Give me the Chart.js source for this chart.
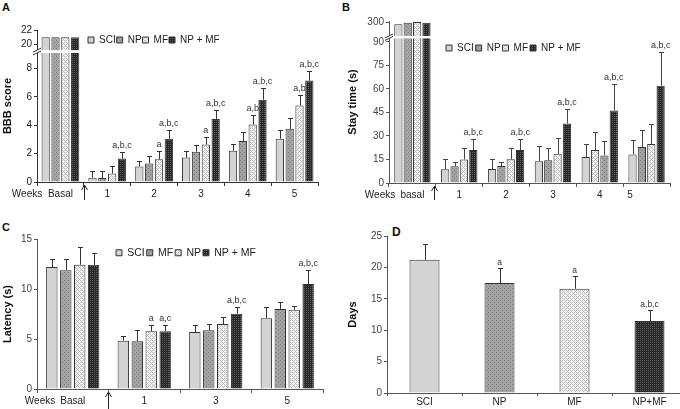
<!DOCTYPE html>
<html><head><meta charset="utf-8">
<script src="https://cdn.jsdelivr.net/npm/chart.js@4.4.0/dist/chart.umd.min.js"></script>
<style>
html,body{margin:0;padding:0;background:#fff;overflow:hidden;width:680px;height:409px;position:relative;}
canvas{position:absolute;}
.lbl{position:absolute;font:bold 11px "Liberation Sans",Arial,Helvetica,sans-serif;color:#111;line-height:11px;}
</style></head><body>
<div class="lbl" style="left:2px;top:2px">A</div>
<div class="lbl" style="left:342px;top:2px">B</div>
<div class="lbl" style="left:2px;top:222px">C</div>
<div class="lbl" style="left:392px;top:227px;font-size:12px">D</div>
<canvas id="cA" width="340" height="200" style="left:0;top:0"></canvas>
<canvas id="cB" width="340" height="200" style="left:340px;top:0"></canvas>
<canvas id="cC" width="340" height="209" style="left:0;top:200px"></canvas>
<canvas id="cD" width="350" height="209" style="left:340px;top:200px"></canvas>
<script>
// ---------- Panel A: BBB score ----------
const aCategories = ['Basal', '1', '2', '3', '4', '5'];
const aSCI      = [21, 0.30, 1.10, 1.72, 2.20, 3.05];
const aSCIErr   = [0, 0.50, 0.40, 0.50, 0.45, 0.60];
const aNP       = [21, 0.28, 1.30, 2.14, 2.90, 3.75];
const aNPErr    = [0, 0.52, 0.50, 0.46, 0.60, 0.75];
const aMF       = [21, 0.60, 1.60, 2.65, 4.05, 5.40];
const aMFErr    = [0, 0.55, 0.60, 0.55, 0.70, 0.75];
const aNPMF     = [21, 1.65, 3.05, 4.45, 5.80, 7.15];
const aNPMFErr  = [0, 0.45, 0.65, 0.65, 0.85, 0.65];
const aMFMarks   = ['', '', 'a', 'a', 'a,b', 'a,b'];
const aNPMFMarks = ['', 'a,b,c', 'a,b,c', 'a,b,c', 'a,b,c', 'a,b,c'];
const aTickLabels = ['0', '2', '4', '6', '8', '20', '22'];
const aTickValues = [0, 2, 4, 6, 8, 20, 22];

// ---------- Panel B: Stay time ----------
const bCategories = ['basal', '1', '2', '3', '4', '5            '];
const bSCI      = [295, 8.8, 9.0, 13.9, 16.5, 18.2];
const bSCIErr   = [0, 6.2, 6.2, 9.6, 8.3, 9.2];
const bNP       = [300, 10.7, 10.8, 14.5, 21.0, 22.9];
const bNPErr    = [0, 2.6, 2.5, 7.5, 11.3, 10.9];
const bMF       = [302, 15.0, 15.2, 18.6, 17.6, 24.8];
const bMFErr    = [0, 7.0, 6.8, 9.9, 9.1, 12.6];
const bNPMF     = [300, 21.0, 21.0, 38.0, 46.2, 62.0];
const bNPMFErr  = [0, 6.8, 7.0, 9.0, 17.1, 21.3];
const bNPMFMarks = ['', 'a,b,c', 'a,b,c', 'a,b,c', 'a,b,c', 'a,b,c'];
const bTickLabels = ['0', '15', '30', '45', '60', '75', '90', '300'];
const bTickValues = [0, 15, 30, 45, 60, 75, 90, 300];

// ---------- Panel C: Latency ----------
const cCategories = ['Basal', '1', '3', '5'];
const cSCI      = [12.20, 4.83, 5.70, 7.07];
const cSCIErr   = [0.83, 0.44, 0.67, 1.13];
const cMF       = [11.87, 4.77, 5.87, 8.00];
const cMFErr    = [1.16, 1.16, 0.66, 0.67];
const cNP       = [12.43, 5.77, 6.50, 7.93];
const cNPErr    = [1.77, 0.66, 0.70, 0.40];
const cNPMF     = [12.43, 5.77, 7.53, 10.50];
const cNPMFErr  = [1.17, 0.60, 0.67, 1.43];
const cNPMarks   = ['', 'a', '', ''];
const cNPMFMarks = ['', 'a,c', 'a,b,c', 'a,b,c'];
const cTickValues = [0, 5, 10, 15];

// ---------- Panel D: Days ----------
const dCategories = ['SCI', 'NP', 'MF', 'NP+MF'];
const dDays      = [21.2, 17.5, 16.6, 11.46];
const dDaysErr   = [2.57, 2.45, 1.97, 1.80];
const dMarks     = ['', 'a', 'a', 'a,b,c'];
const dTickValues = [0, 5, 10, 15, 20, 25];

const FONT = '"Liberation Sans", Arial, Helvetica, sans-serif';
Chart.defaults.font.family = FONT;
Chart.defaults.font.size = 10;
Chart.defaults.color = '#333';
Chart.defaults.animation = false;

// broken-axis transforms
const tA = v => v >= 15 ? 9.7 + (v - 20) * 0.5 : v;
const tB = v => v >= 200 ? 102.2 + (v - 300) * 0.2 : v;
const ident = v => v;

// fill patterns
function pat(bg, fg, pts) {
  const c = document.createElement('canvas'); c.width = 4; c.height = 4;
  const g = c.getContext('2d'); g.fillStyle = bg; g.fillRect(0, 0, 4, 4);
  g.fillStyle = fg; pts.forEach(p => g.fillRect(p[0], p[1], 1, 1));
  return g.createPattern(c, 'repeat');
}
const fillSCI = '#d3d3d3';
const fillNP = pat('#a2a2a2', '#7c7c7c', [[0,0],[2,2]]);
const fillMF = pat('#f4f4f4', '#bdbdbd', [[0,0],[2,0],[1,1],[3,3],[0,2],[2,2]]);
const fillNPMF = pat('#282828', '#5c5c5c', [[0,0],[2,2],[2,0],[0,2]]);

function ds(label, raw, err, marks, t, fill) {
  return {
    label, data: raw.map(t),
    errTop: raw.map((v, i) => err[i] ? t(v + err[i]) : null),
    marks: marks || null,
    backgroundColor: fill, borderColor: '#333', borderWidth: 1
  };
}

// ---------- plugins ----------
const legendInside = {
  id: 'legendInside',
  afterInit(chart) {
    const lg = chart.legend; if (!lg) return;
    const f = lg.fit;
    lg.fit = function () { f.call(this); this._rw = this.width; this._rh = this.height; this.height = 0; };
  },
  afterLayout(chart, args, o) {
    const lg = chart.legend; if (!lg) return;
    lg.left = o.x; lg.top = o.y; lg.width = lg._rw; lg.height = lg._rh;
    lg.right = o.x + lg._rw; lg.bottom = o.y + lg._rh;
  }
};
const breakPlugin = {
  id: 'axisBreak',
  afterDatasetsDraw(chart, args, o) {
    const {ctx, chartArea: ca} = chart; const y = chart.scales.y;
    const y1 = y.getPixelForValue(o.hi), y2 = y.getPixelForValue(o.lo);
    ctx.save(); ctx.fillStyle = '#fff';
    ctx.fillRect(ca.left - 6, y1, ca.right - ca.left + 6, y2 - y1);
    ctx.strokeStyle = '#333'; ctx.lineWidth = 1; ctx.beginPath();
    [y1, y2].forEach(yy => { ctx.moveTo(ca.left - 4, yy + 2); ctx.lineTo(ca.left + 4, yy - 2); });
    ctx.stroke(); ctx.restore();
  }
};
const errPlugin = {
  id: 'errbars',
  afterDatasetsDraw(chart, args, o) {
    const {ctx} = chart; const y = chart.scales.y;
    ctx.save();
    chart.data.datasets.forEach((d, di) => {
      const meta = chart.getDatasetMeta(di);
      meta.data.forEach((bar, i) => {
        let top = bar.y;
        if (d.errTop && d.errTop[i] != null) {
          const yt = Math.round(y.getPixelForValue(d.errTop[i])) + 0.5;
          const x = Math.round(bar.x) + 0.5;
          ctx.strokeStyle = o.color; ctx.lineWidth = 1;
          ctx.beginPath(); ctx.moveTo(x, bar.y); ctx.lineTo(x, yt);
          ctx.moveTo(x - o.cap, yt); ctx.lineTo(x + o.cap, yt); ctx.stroke();
          top = yt;
        }
        const m = d.marks && d.marks[i];
        if (m) {
          ctx.fillStyle = '#333'; ctx.font = o.fs + 'px ' + FONT;
          ctx.textAlign = 'center'; ctx.textBaseline = 'bottom';
          ctx.fillText(m, bar.x, top - 2);
        }
      });
    });
    ctx.restore();
  }
};
const xExtras = {
  id: 'xExtras',
  afterDraw(chart, args, o) {
    const {ctx, chartArea: ca} = chart; const x = chart.scales.x;
    const ax = Math.round((x.getPixelForValue(0) + x.getPixelForValue(1)) / 2 + o.dx) + 0.5;
    const y0 = ca.bottom + 3;
    ctx.save(); ctx.strokeStyle = '#222'; ctx.lineWidth = 1; ctx.beginPath();
    ctx.moveTo(ax, y0); ctx.lineTo(ax, chart.height);
    ctx.moveTo(ax - 3, y0 + 5); ctx.lineTo(ax, y0); ctx.lineTo(ax + 3, y0 + 5); ctx.stroke();
    ctx.fillStyle = '#222'; ctx.font = '10px ' + FONT; ctx.textAlign = 'center'; ctx.textBaseline = 'middle';
    ctx.fillText(o.text, o.wx, ca.bottom + o.ly);
    ctx.restore();
  }
};

function options(p) {
  return {
    responsive: false, animation: false, devicePixelRatio: 1,
    layout: {padding: {top: p.top, right: p.right, left: 0, bottom: 0}},
    datasets: {bar: {categoryPercentage: p.cat, barPercentage: p.bar}},
    plugins: {
      legend: p.legend ? {display: true, position: 'top', align: 'start',
        labels: {boxWidth: 6, boxHeight: 6, padding: p.legend.pad, font: {size: p.legend.fs}, color: '#222'}} : {display: false},
      tooltip: {enabled: false},
      legendInside: p.legend || {x: 0, y: 0},
      errbars: {color: p.errColor || '#333', cap: 2.5, fs: p.markFs || 9},
      axisBreak: p.brk || {lo: 0, hi: 0},
      xExtras: p.weeks || {}
    },
    scales: {
      x: {
        type: 'category', offset: true,
        grid: {display: true, offset: true, drawOnChartArea: false, drawTicks: true, tickLength: p.xTick || 4, color: p.axisColor},
        border: {display: true, color: p.axisColor, width: 1},
        ticks: {padding: p.xPad == null ? 2 : p.xPad, font: {size: 10}, color: '#222', maxRotation: 0, autoSkip: false},
        afterFit(s) { s.height = p.xH; }
      },
      y: {
        type: 'linear', min: 0, max: p.yMax,
        grid: {display: true, drawOnChartArea: false, drawTicks: true, tickLength: 3, color: p.axisColor},
        border: {display: true, color: p.axisColor, width: 1},
        ticks: {padding: 2, font: {size: 10}, color: p.tickColor || '#333',
          callback: (v, i) => p.yLabels[i]},
        afterBuildTicks(s) { s.ticks = p.yVals.map(v => ({value: v})); },
        afterFit(s) { s.width = p.yW; },
        title: {display: true, text: p.yTitle, font: {size: 11, weight: 'bold'}, color: '#111', padding: {top: p.titlePad, bottom: 0}}
      }
    }
  };
}

// Panel A
new Chart(document.getElementById('cA'), {
  type: 'bar',
  data: {labels: aCategories, datasets: [
    ds('SCI', aSCI, aSCIErr, null, tA, fillSCI),
    ds('NP', aNP, aNPErr, null, tA, fillNP),
    ds('MF', aMF, aMFErr, aMFMarks, tA, fillMF),
    ds('NP + MF', aNPMF, aNPMFErr, aNPMFMarks, tA, fillNPMF)
  ]},
  options: options({top: 30, right: 22, yW: 37, xH: 18, yMax: 10.72, yVals: aTickValues.map(tA), yLabels: aTickLabels,
    yTitle: 'BBB score', titlePad: 1, cat: 0.84, bar: 0.84, axisColor: '#333', tickColor: '#222',
    legend: {x: 87, y: 34, fs: 10, pad: 1}, brk: {lo: 9.1, hi: 9.3}, weeks: {text: 'Weeks', wx: 27, ly: 12, dx: 0}}),
  plugins: [legendInside, breakPlugin, errPlugin, xExtras]
});

// Panel B
const bNPfill = c => (c.type === 'data' && c.dataIndex === 4) ? fillMF : fillNP;
const bMFfill = c => (c.type === 'data' && c.dataIndex === 4) ? fillNP : fillMF;
new Chart(document.getElementById('cB'), {
  type: 'bar',
  data: {labels: bCategories, datasets: [
    ds('SCI', bSCI, bSCIErr, null, tB, fillSCI),
    ds('NP', bNP, bNPErr, null, tB, bNPfill),
    ds('MF', bMF, bMFErr, null, tB, bMFfill),
    ds('NP + MF', bNPMF, bNPMFErr, bNPMFMarks, tB, fillNPMF)
  ]},
  options: options({top: 21, right: 10, yW: 49, xH: 17, yMax: 103.3, yVals: bTickValues.map(tB), yLabels: bTickLabels,
    yTitle: 'Stay time (s)', titlePad: 6, cat: 0.8, bar: 0.88, axisColor: '#555', tickColor: '#444', errColor: '#444',
    legend: {x: 104, y: 41, fs: 10, pad: 2}, brk: {lo: 92.2, hi: 93.8}, weeks: {text: 'Weeks', wx: 40, ly: 12, dx: -2}}),
  plugins: [legendInside, breakPlugin, errPlugin, xExtras]
});

// Panel C
new Chart(document.getElementById('cC'), {
  type: 'bar',
  data: {labels: cCategories, datasets: [
    ds('SCI', cSCI, cSCIErr, null, ident, fillSCI),
    ds('MF', cMF, cMFErr, null, ident, fillNP),
    ds('NP', cNP, cNPErr, cNPMarks, ident, fillMF),
    ds('NP + MF', cNPMF, cNPMFErr, cNPMFMarks, ident, fillNPMF)
  ]},
  options: options({top: 39, right: 17, yW: 37, xH: 20, yMax: 15, yVals: cTickValues, yLabels: cTickValues.map(String),
    yTitle: 'Latency (s)', titlePad: 1, cat: 0.78, bar: 0.82, axisColor: '#555', tickColor: '#444',
    legend: {x: 114, y: 45.5, fs: 10.5, pad: 2}, weeks: {text: 'Weeks', wx: 40, ly: 12, dx: -1}}),
  plugins: [legendInside, errPlugin, xExtras]
});

// Panel D
new Chart(document.getElementById('cD'), {
  type: 'bar',
  data: {labels: dCategories, datasets: [
    {label: 'Days', data: dDays, errTop: dDays.map((v, i) => v + dDaysErr[i]), marks: dMarks,
     backgroundColor: [fillSCI, fillNP, fillMF, fillNPMF], borderColor: '#333', borderWidth: 1}
  ]},
  options: options({top: 36, right: 3, yW: 47, xH: 16, yMax: 25, yVals: dTickValues, yLabels: dTickValues.map(String),
    yTitle: 'Days', titlePad: 6, cat: 0.4, bar: 1, axisColor: '#555', tickColor: '#444', xTick: 3, xPad: 0, markFs: 8.5}),
  plugins: [errPlugin]
});
</script>
</body></html>
